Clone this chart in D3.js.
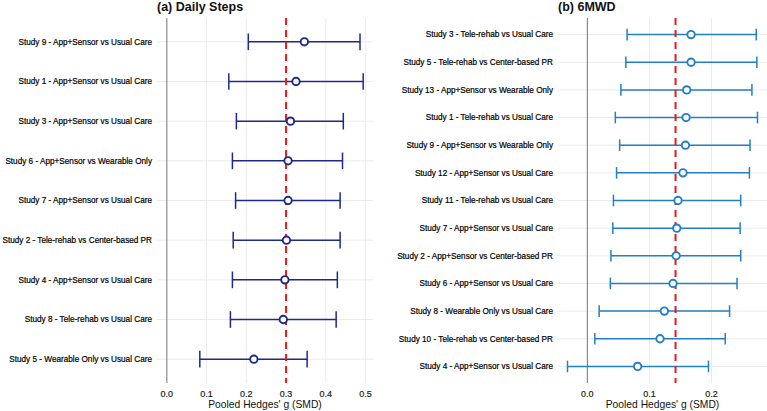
<!DOCTYPE html>
<html><head><meta charset="utf-8">
<script src="https://cdn.jsdelivr.net/npm/d3@7"></script>
<style>html,body{margin:0;padding:0;background:#fff;}svg{display:block;font-family:"Liberation Sans",Arial,sans-serif;}</style>
</head><body>
<svg id="chart" width="767" height="411"></svg>
<script>
// Panel (a) Daily Steps
const stepsStudies = ["Study 9 - App+Sensor vs Usual Care","Study 1 - App+Sensor vs Usual Care","Study 3 - App+Sensor vs Usual Care","Study 6 - App+Sensor vs Wearable Only","Study 7 - App+Sensor vs Usual Care","Study 2 - Tele-rehab vs Center-based PR","Study 4 - App+Sensor vs Usual Care","Study 8 - Tele-rehab vs Usual Care","Study 5 - Wearable Only vs Usual Care"];
const stepsEst = [0.346,0.325,0.311,0.305,0.305,0.301,0.297,0.293,0.219];
const stepsLo  = [0.205,0.156,0.175,0.165,0.173,0.167,0.165,0.160,0.083];
const stepsHi  = [0.486,0.494,0.444,0.442,0.436,0.436,0.429,0.426,0.353];
const stepsPooled = 0.300;
const stepsTicks = [0.0,0.1,0.2,0.3,0.4,0.5];

// Panel (b) 6MWD
const mwdStudies = ["Study 3 - Tele-rehab vs Usual Care","Study 5 - Tele-rehab vs Center-based PR","Study 13 - App+Sensor vs Wearable Only","Study 1 - Tele-rehab vs Usual Care","Study 9 - App+Sensor vs Wearable Only","Study 12 - App+Sensor vs Usual Care","Study 11 - Tele-rehab vs Usual Care","Study 7 - App+Sensor vs Usual Care","Study 2 - App+Sensor vs Center-based PR","Study 6 - App+Sensor vs Usual Care","Study 8 - Wearable Only vs Usual Care","Study 10 - Tele-rehab vs Center-based PR","Study 4 - App+Sensor vs Usual Care"];
const mwdEst = [0.167,0.167,0.160,0.159,0.158,0.154,0.146,0.144,0.143,0.138,0.124,0.117,0.081];
const mwdLo  = [0.064,0.062,0.054,0.045,0.052,0.047,0.042,0.041,0.038,0.037,0.019,0.012,-0.032];
const mwdHi  = [0.272,0.273,0.265,0.274,0.262,0.261,0.247,0.246,0.247,0.241,0.229,0.222,0.195];
const mwdPooled = 0.142;
const mwdTicks = [0.0,0.1,0.2];

const titles = ["(a) Daily Steps","(b) 6MWD"];
const xTitle = "Pooled Hedges' g (SMD)";

const svg = d3.select("#chart");

function panel(cfg){
  const {left,right,top,bottom,studies,est,lo,hi,pooled,ticks,color,title} = cfg;
  const g = svg.append("g");
  const mn = Math.min(0, d3.min(lo)), mx = Math.max(0, d3.max(hi));
  const pad = (mx-mn)*0.05;
  const x = d3.scaleLinear().domain([mn-pad, mx+pad]).range([left,right]);
  const y = d3.scaleBand().domain(studies).range([top,bottom]).paddingOuter(0.1).paddingInner(0);
  const yc = s => y(s)+y.bandwidth()/2;
  const n = studies.length;
  const rows = d3.range(n);

  // grid
  g.selectAll(".vg").data(ticks.filter(t=>t!==0)).join("line")
    .attr("x1",d=>x(d)).attr("x2",d=>x(d)).attr("y1",top).attr("y2",bottom)
    .attr("stroke","#ebebeb").attr("stroke-width",1);
  g.selectAll(".hg").data(studies).join("line")
    .attr("x1",left).attr("x2",right).attr("y1",d=>yc(d)).attr("y2",d=>yc(d))
    .attr("stroke","#ebebeb").attr("stroke-width",1);
  // zero line
  g.append("line").attr("x1",x(0)).attr("x2",x(0)).attr("y1",top).attr("y2",bottom)
    .attr("stroke","#808080").attr("stroke-width",1.1);

  const capH = y.bandwidth()*0.42;
  // error bars
  g.selectAll(".eb").data(rows).join("line")
    .attr("x1",i=>x(lo[i])).attr("x2",i=>x(hi[i])).attr("y1",i=>yc(studies[i])).attr("y2",i=>yc(studies[i]))
    .attr("stroke",color).attr("stroke-width",1.5);
  g.selectAll(".cl").data(rows).join("line")
    .attr("x1",i=>x(lo[i])).attr("x2",i=>x(lo[i])).attr("y1",i=>yc(studies[i])-capH/2).attr("y2",i=>yc(studies[i])+capH/2)
    .attr("stroke",color).attr("stroke-width",1.5);
  g.selectAll(".ch").data(rows).join("line")
    .attr("x1",i=>x(hi[i])).attr("x2",i=>x(hi[i])).attr("y1",i=>yc(studies[i])-capH/2).attr("y2",i=>yc(studies[i])+capH/2)
    .attr("stroke",color).attr("stroke-width",1.5);

  // pooled dashed line
  g.append("line").attr("x1",x(pooled)).attr("x2",x(pooled)).attr("y1",top).attr("y2",bottom)
    .attr("stroke","#e41a1c").attr("stroke-width",2).attr("stroke-dasharray","7,5");

  // points
  g.selectAll(".pt").data(rows).join("circle")
    .attr("cx",i=>x(est[i])).attr("cy",i=>yc(studies[i])).attr("r",3.7)
    .attr("fill","#fff").attr("stroke",color).attr("stroke-width",1.9);

  // y labels
  g.selectAll(".yl").data(studies).join("text")
    .attr("x",left-5).attr("y",d=>yc(d)).attr("dy","0.35em").attr("text-anchor","end")
    .attr("font-size","8.2px").attr("fill","#000").attr("stroke","#000").attr("stroke-width",0.2).text(d=>d);
  // x tick labels
  g.selectAll(".xl").data(ticks).join("text")
    .attr("x",d=>x(d)).attr("y",bottom+14).attr("text-anchor","middle")
    .attr("font-size","9px").attr("fill","#222").attr("stroke","#222").attr("stroke-width",0.2).text(d=>d3.format(".1f")(d));
  // x title
  g.append("text").attr("x",(left+right)/2).attr("y",bottom+25).attr("text-anchor","middle")
    .attr("font-size","10.3px").attr("fill","#111").text(xTitle);
  // title
  g.append("text").attr("x",left).attr("y",11).attr("font-size","12.5px").attr("font-weight","bold")
    .attr("fill","#111").text(title);
}

panel({left:157,right:373,top:18,bottom:383,studies:stepsStudies,est:stepsEst,lo:stepsLo,hi:stepsHi,pooled:stepsPooled,ticks:stepsTicks,color:"#1f2a86",title:titles[0]});
panel({left:558,right:767,top:18,bottom:383,studies:mwdStudies,est:mwdEst,lo:mwdLo,hi:mwdHi,pooled:mwdPooled,ticks:mwdTicks,color:"#2280c4",title:titles[1]});
</script>
</body></html>
